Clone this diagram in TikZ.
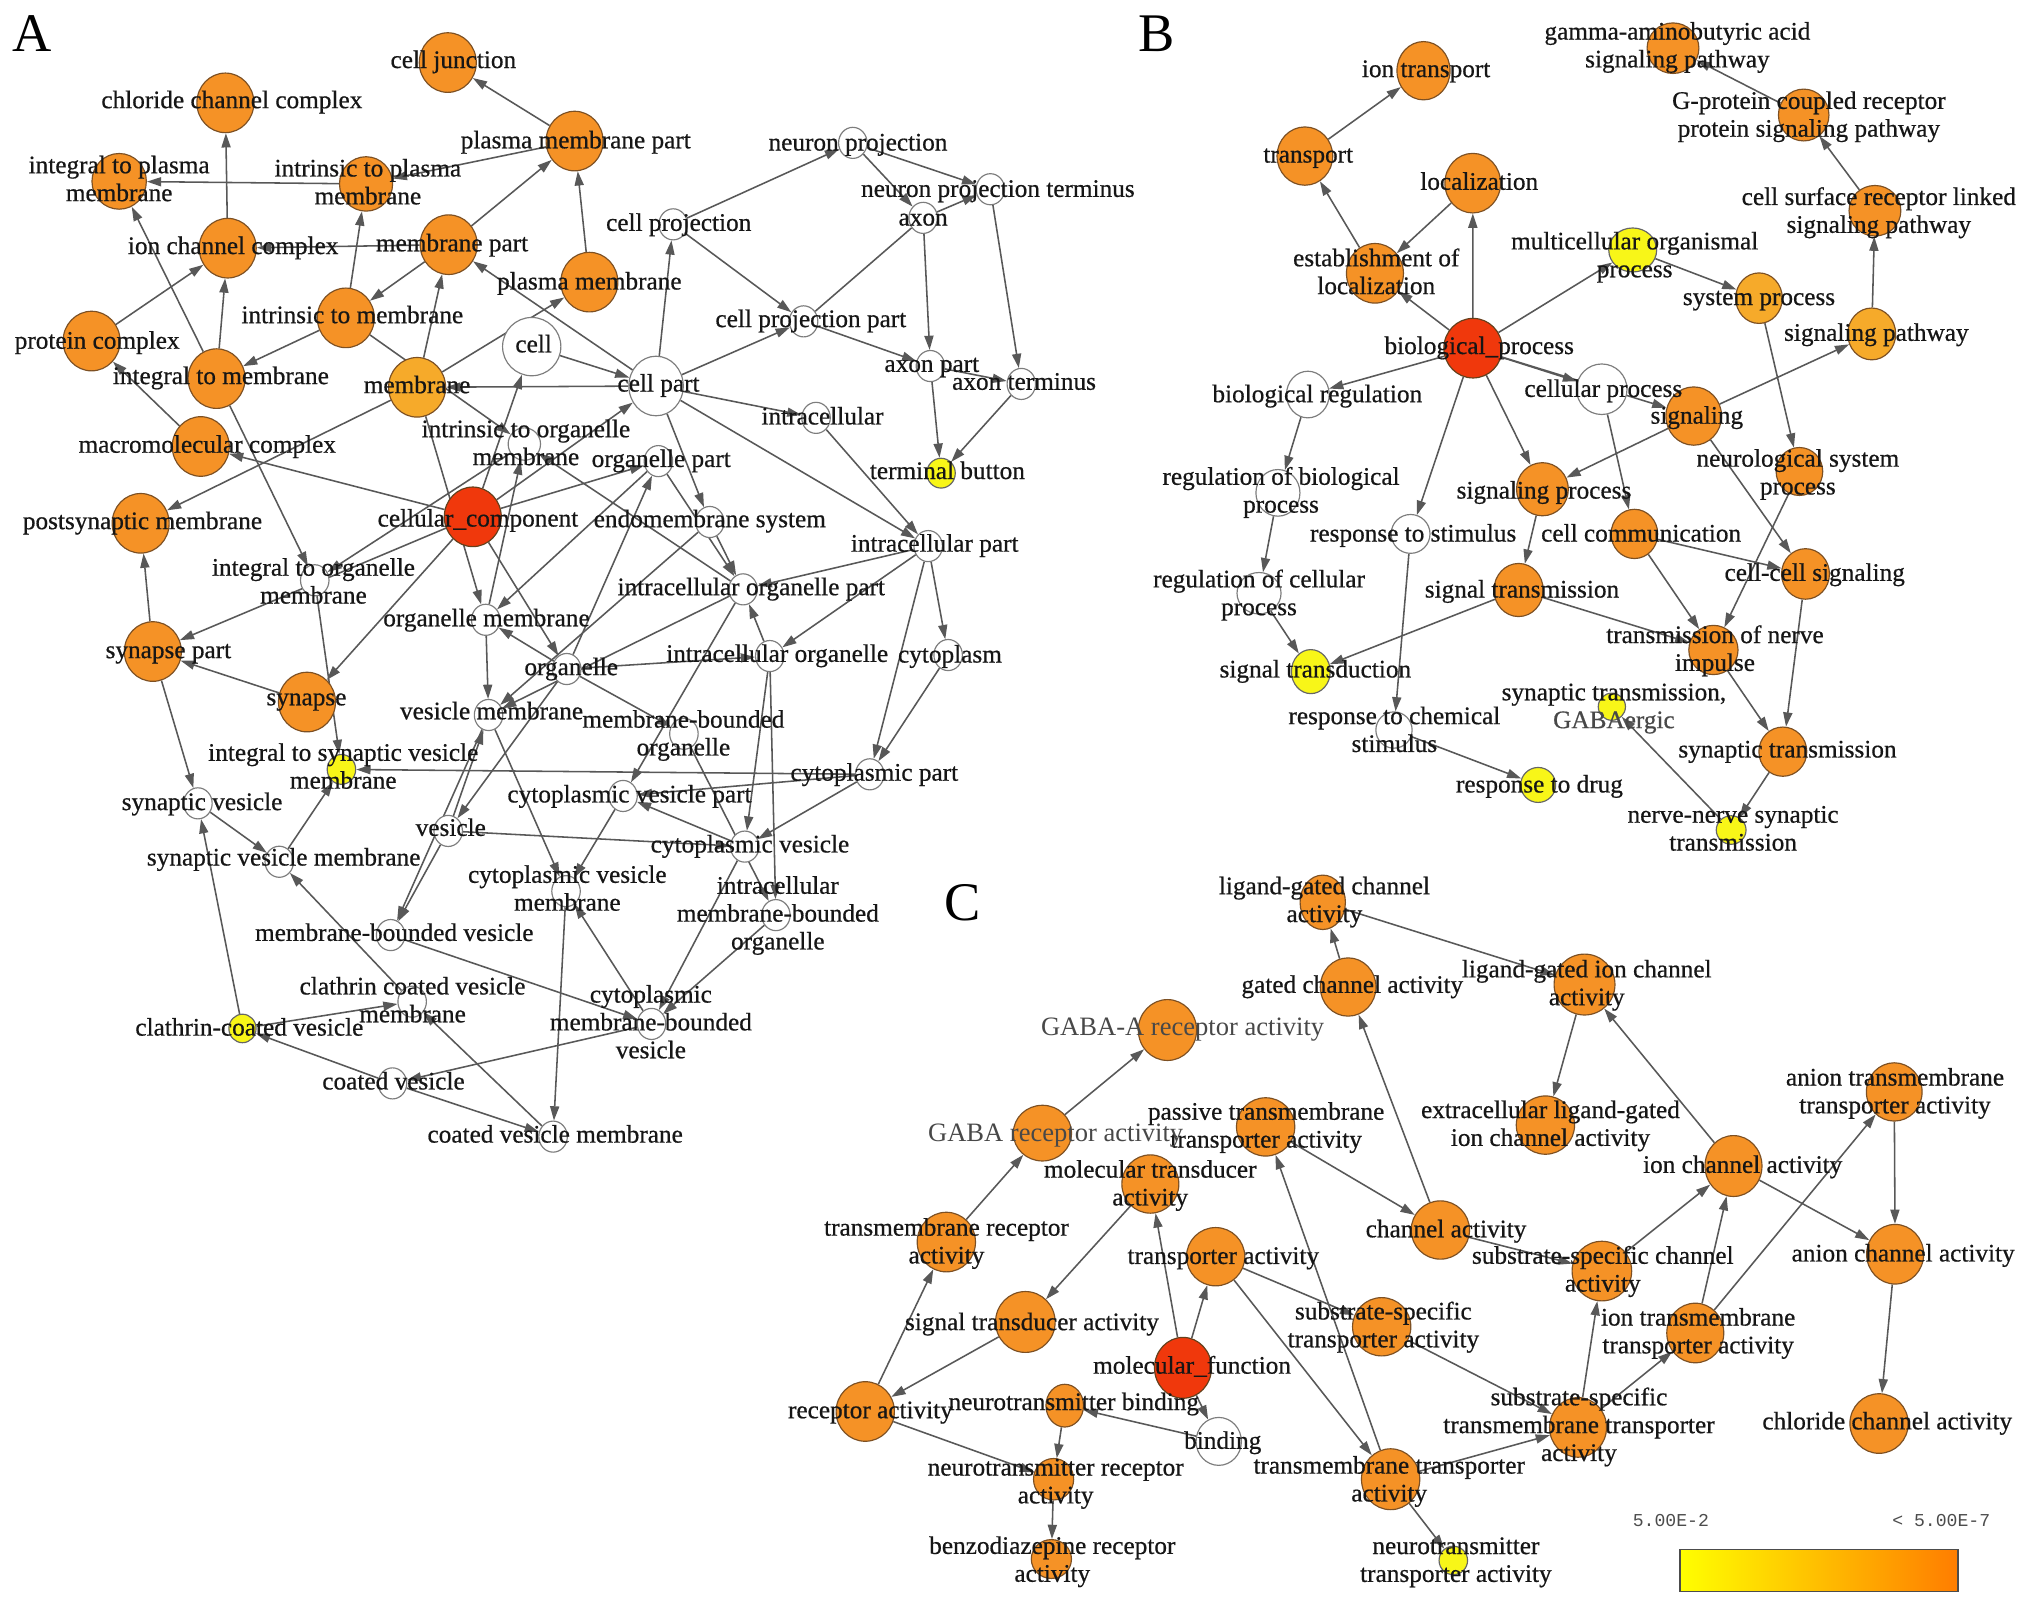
\documentclass[tikz,border=0pt]{standalone}
\usepackage{fontspec}
\setmainfont{Liberation Serif}
\newfontfamily\lblfont{Liberation Serif}[FakeBold=0.6]
\newfontfamily\legendfont{Liberation Mono}
\usetikzlibrary{shapes.geometric,arrows.meta}
\definecolor{ornfill}{RGB}{245,146,38}
\definecolor{lornfill}{RGB}{246,170,42}
\definecolor{redfill}{RGB}{240,56,12}
\definecolor{yelfill}{RGB}{248,246,24}
\definecolor{ndborder}{RGB}{125,80,35}
\definecolor{whtborder}{RGB}{125,125,125}
\definecolor{edgec}{RGB}{88,88,88}
\definecolor{txt}{RGB}{22,22,22}
\definecolor{gabatxt}{RGB}{72,72,72}
\pgfdeclarelayer{bglayer}
\pgfdeclarelayer{edgelayer}
\pgfsetlayers{bglayer,edgelayer,main}
\tikzset{
  nd/.style={ellipse, draw=ndborder, line width=0.9pt, inner sep=0pt, minimum width=44pt, minimum height=46pt},
  orn/.style={nd, fill=ornfill},
  lorn/.style={nd, fill=lornfill},
  redn/.style={nd, fill=redfill, draw=ndborder!80!black},
  yel/.style={nd, fill=yelfill, draw=black!60, minimum width=22pt, minimum height=23pt},
  wht/.style={nd, fill=white, draw=whtborder, minimum width=22pt, minimum height=24pt},
  sz/.style 2 args={minimum width=#1pt, minimum height=#2pt},
  lbl/.style={font=\lblfont\fontsize{19.5}{21.5}\selectfont, text=txt, inner sep=0pt, align=center, text height=13pt, text depth=4pt},
  two/.style={yshift=-10.75pt},
  three/.style={yshift=-21.5pt},
  gablbl/.style={lbl, font=\fontsize{20.5}{21.5}\selectfont, text=gabatxt},
  panel/.style={font=\fontsize{42}{42}\selectfont, text=black, inner sep=0pt},
  edg/.style={draw=edgec, line width=1.2pt, -{Triangle[length=11pt,width=7pt]}},
  edgn/.style={draw=edgec, line width=1.2pt},
}
\begin{document}
\begin{tikzpicture}[x=1pt,y=-1pt]
\begin{pgfonlayer}{bglayer}
\fill[white] (0,0) rectangle (1568,1242);
\end{pgfonlayer}
\useasboundingbox (0,0) rectangle (1568,1242);

% ---------------- Panel A nodes ----------------
\node[orn] (cj) at (345.7,48.3) {};
\node[orn] (ccc) at (174,79.4) {};
\node[orn] (pmp) at (443.6,108.9) {};
\node[orn, sz={42}{43}] (itpm) at (92,140) {};
\node[orn, sz={41}{42}] (intpm) at (282.6,142) {};
\node[orn] (icc) at (175.8,191.6) {};
\node[orn] (mp) at (346.4,188.9) {};
\node[orn] (pm) at (455,217.8) {};
\node[orn] (intm) at (267,245.4) {};
\node[orn] (pc) at (70.7,263.3) {};
\node[orn] (itm) at (167.2,292.3) {};
\node[lorn] (mem) at (322,299) {};
\node[wht, sz={45}{45}] (cell) at (410.5,267.6) {};
\node[wht, sz={42}{46}] (cpart) at (506.5,298) {};
\node[orn] (mcc) at (155,344.7) {};
\node[wht, sz={25}{25}] (intom) at (404.8,342.8) {};
\node[wht] (opart) at (508.3,356) {};
\node[redn] (cc) at (365,399) {};
\node[orn] (psm) at (108.6,404) {};
\node[wht] (endo) at (548,403) {};
\node[wht] (itom) at (243,448) {};
\node[wht] (om) at (375,478.5) {};
\node[wht] (iop) at (573.7,455) {};
\node[wht] (ip) at (716.6,421.6) {};
\node[orn] (sp) at (118,503) {};
\node[orn] (syn) at (237,542) {};
\node[wht] (org) at (437.5,516.5) {};
\node[wht] (io) at (594.3,506.5) {};
\node[wht] (cyto) at (732,505.7) {};
\node[wht] (vm) at (377.2,552) {};
\node[wht] (mbo) at (528,566.5) {};
\node[yel] (itsvm) at (263.6,594) {};
\node[wht] (cvp) at (481,614.5) {};
\node[wht] (cpt) at (671.5,597.8) {};
\node[wht] (sv) at (152.8,620.2) {};
\node[wht] (ves) at (346,641.5) {};
\node[wht] (cv) at (575,653.6) {};
\node[wht] (svm) at (215.6,665.3) {};
\node[wht] (cvm) at (437,688) {};
\node[wht] (imbo) at (599,706.5) {};
\node[wht] (mbv) at (301.6,721.9) {};
\node[wht] (ccvm) at (318.2,773.3) {};
\node[yel, sz={21}{22}] (ccv) at (187.2,794) {};
\node[wht] (cmbv) at (503,790.5) {};
\node[wht] (cov) at (303,836.4) {};
\node[wht] (covm) at (427,877.5) {};
\node[wht] (np) at (658.4,110.3) {};
\node[wht] (npt) at (764.6,146.1) {};
\node[wht] (axon) at (712.7,168.2) {};
\node[wht] (cproj) at (519.7,173.2) {};
\node[wht] (cpp) at (620.4,248.1) {};
\node[wht] (axp) at (718.3,282.6) {};
\node[wht] (axt) at (788.5,296.4) {};
\node[wht] (intra) at (630,322.6) {};
\node[yel] (tb) at (726.5,365.3) {};

% ---------------- Panel B nodes ----------------
\node[orn, sz={41}{45}] (bion) at (1099,54.6) {};
\node[orn, sz={40}{39}] (gaba) at (1291.6,37.2) {};
\node[orn, sz={39}{40}] (gpcr) at (1392.5,88.8) {};
\node[orn, sz={43}{45}] (transp) at (1007.4,120.5) {};
\node[orn, sz={43}{46}] (loc) at (1137,141.4) {};
\node[orn, sz={40}{39}] (csr) at (1447.5,162.7) {};
\node[yel, sz={37}{34}] (mop) at (1260.5,193) {};
\node[orn] (eol) at (1061.5,211) {};
\node[lorn, sz={36}{39}] (sysp) at (1358,230.2) {};
\node[lorn, sz={37}{40}] (sigpath) at (1445,257.8) {};
\node[redn, sz={45}{46}] (bp) at (1137.2,268.8) {};
\node[wht, sz={33}{36}] (breg) at (1009.7,304.6) {};
\node[wht, sz={39}{39}] (cellp) at (1236.6,300.5) {};
\node[orn, sz={43}{45}] (signaling) at (1307.6,321.2) {};
\node[orn, sz={36}{37}] (nsp) at (1389.2,364) {};
\node[wht, sz={34}{36}] (rbp) at (986.6,380.5) {};
\node[orn, sz={40}{41}] (sigproc) at (1190.8,377.7) {};
\node[wht, sz={30}{30}] (rts) at (1089,412.2) {};
\node[orn, sz={36}{38}] (ccomm) at (1261.8,412.2) {};
\node[orn, sz={37}{39}] (ccs) at (1393.9,443.1) {};
\node[orn, sz={38}{41}] (sigtr) at (1172.4,455.5) {};
\node[orn, sz={38}{38}] (tni) at (1322.8,501.8) {};
\node[wht, sz={34}{32}] (rcp) at (972,458) {};
\node[yel, sz={30}{34}] (sigtd) at (1012,518.5) {};
\node[yel, sz={21}{21}] (gabaerg) at (1244.4,545.6) {};
\node[wht, sz={28}{28}] (rcs) at (1076.2,563.6) {};
\node[orn, sz={37}{38}] (syntr) at (1376.4,580.3) {};
\node[yel, sz={27}{27}] (rdrug) at (1187.5,606) {};
\node[yel, sz={23}{22}] (nnst) at (1336.5,640.8) {};

% ---------------- Panel C nodes ----------------
\node[orn, sz={35}{42}] (lgc) at (1021.2,696.6) {};
\node[orn, sz={43}{45}] (gca) at (1040.8,762) {};
\node[orn, sz={47}{47}] (lgic) at (1223.3,760.1) {};
\node[orn, sz={45}{47}] (gabaa) at (901.3,795.2) {};
\node[orn, sz={43}{45}] (anti) at (1462.4,843) {};
\node[orn, sz={45}{45}] (ptta) at (977.1,870) {};
\node[orn, sz={45}{45}] (elgic) at (1193.1,868.6) {};
\node[orn, sz={45}{43}] (gabar) at (804.8,874.8) {};
\node[orn, sz={44}{47}] (ica) at (1338.3,900.2) {};
\node[orn, sz={44}{45}] (mta) at (888.1,914.1) {};
\node[orn, sz={45}{45}] (ca) at (1112,949.6) {};
\node[orn, sz={45}{46}] (tra) at (730.6,958.9) {};
\node[orn, sz={45}{45}] (ta) at (938.5,970.2) {};
\node[orn, sz={44}{46}] (aca) at (1463.1,968.3) {};
\node[orn, sz={46}{46}] (sca) at (1236.7,981.3) {};
\node[orn, sz={46}{47}] (sta) at (791.6,1020.6) {};
\node[orn, sz={45}{45}] (ssta) at (1066.7,1024.3) {};
\node[orn, sz={44}{46}] (itta) at (1308.8,1029.1) {};
\node[redn, sz={44}{47}] (mf) at (913.3,1056) {};
\node[orn, sz={45}{46}] (ra) at (668,1089.7) {};
\node[orn, sz={29}{33}] (ntb) at (822,1085.2) {};
\node[orn, sz={44}{46}] (sstta) at (1218.3,1102) {};
\node[orn, sz={45}{46}] (chca) at (1450.7,1099) {};
\node[wht, sz={35}{37}] (bind) at (940.9,1112.8) {};
\node[orn, sz={45}{47}] (tta) at (1073.6,1142) {};
\node[orn, sz={31}{32}] (nra) at (813.4,1142) {};
\node[orn, sz={31}{30}] (bzd) at (811.7,1203.6) {};
\node[yel, sz={22}{22}] (ntta) at (1122,1204.7) {};

% ---------------- edges ----------------
\begin{pgfonlayer}{edgelayer}
\foreach \a/\b in {pmp/cj, pmp/intpm, intpm/itpm, icc/ccc, itm/itpm, intm/intpm,
  mp/icc, mp/pmp, mp/intm, pm/pmp, pc/icc, itm/icc, intm/itm, mem/mp, cpart/mp,
  intm/intom, mem/pm, cpart/mem, cell/cpart, cc/cell, om/intom, cc/cpart, cc/opart,
  cc/mcc, mcc/pc, mem/psm, sp/psm, itm/itom, intom/itom, cc/syn, cc/sp, syn/sp,
  itom/itsvm, sp/sv, sv/svm, svm/itsvm, cpt/itsvm, mem/om, org/om, opart/om, cc/org,
  om/vm, iop/vm, endo/vm, org/opart, iop/intom, cpart/cproj, cpart/cpp, cproj/cpp,
  cproj/np, np/npt, np/axon, axon/npt, cpp/axp, axon/axp, axp/axt, npt/axt, axp/tb,
  axt/tb, cpart/intra, intra/ip, cpart/ip, cpart/endo, opart/iop, endo/iop, ip/iop,
  io/iop, ip/io, ip/cyto, ip/cpt, cyto/cpt, org/io, io/cv, io/imbo, org/mbo, mbo/imbo,
  iop/cvp, cpt/cvp, cv/cvp, cpt/cv, vm/cvm, cvp/cvm, org/ves, ves/vm, ves/mbv, vm/mbv,
  ves/cv, cv/cmbv, imbo/cmbv, mbv/cmbv, cmbv/cov, cmbv/cvm, ccvm/svm, ccv/sv, ccv/ccvm,
  cov/ccv, cov/covm, covm/ccvm, cvm/covm,
  transp/bion, eol/transp, loc/eol, bp/loc, bp/eol, bp/mop, mop/sysp, sysp/nsp,
  gpcr/gaba, csr/gpcr, sigpath/csr, signaling/sigpath, bp/breg, bp/cellp, bp/signaling,
  bp/sigproc, bp/rts, breg/rbp, signaling/sigproc, signaling/ccs, cellp/ccomm, nsp/tni,
  sigproc/sigtr, ccomm/tni, ccomm/ccs, sigtr/sigtd, sigtr/tni, rbp/rcp, rcp/sigtd,
  rts/rcs, rcs/rdrug, tni/syntr, ccs/syntr, syntr/nnst, nnst/gabaerg,
  gabar/gabaa, tra/gabar, ra/tra, sta/ra, mta/sta, mf/mta, mf/ta, mf/bind, bind/ntb,
  ntb/nra, ra/nra, nra/bzd, ta/ssta, ta/tta, tta/ptta, ptta/ca, ca/gca, gca/lgc,
  lgc/lgic, ica/lgic, lgic/elgic, ca/sca, sca/ica, itta/ica, sstta/sca, sstta/itta,
  itta/anti, anti/aca, ica/aca, aca/chca, ssta/sstta, tta/sstta, tta/ntta}
  \draw[edg] (\a) -- (\b);
\draw[edgn] (axon) -- (cpp);
\end{pgfonlayer}

% ---------------- Panel labels ----------------
\node[panel] (pA) at (25,26) {A};
\node[panel] (pB) at (893,26) {B};
\node[panel] (pC) at (743,697) {C};

% ---------------- Panel A labels ----------------
\node[lbl] (l1) at (350,48) {cell junction};
\node[lbl] (l2) at (179,79) {chloride channel complex};
\node[lbl] (l3) at (444.5,110) {plasma membrane part};
\node[lbl, two] (l4) at (92,140) {integral to plasma\\membrane};
\node[lbl, two] (l5) at (284,142.5) {intrinsic to plasma\\membrane};
\node[lbl] (l6) at (180,191.6) {ion channel complex};
\node[lbl] (l7) at (349,189.5) {membrane part};
\node[lbl] (l8) at (455,219) {plasma membrane};
\node[lbl] (l9) at (272,245) {intrinsic to membrane};
\node[lbl] (l10) at (75,264.7) {protein complex};
\node[lbl] (l11) at (170.5,292) {integral to membrane};
\node[lbl] (l12) at (322,299) {membrane};
\node[lbl] (l13) at (412,267.5) {cell};
\node[lbl] (l14) at (508.4,297.8) {cell part};
\node[lbl] (l15) at (160,345) {macromolecular complex};
\node[lbl, two] (l16) at (406,343.8) {intrinsic to organelle\\membrane};
\node[lbl] (l17) at (510.5,356) {organelle part};
\node[lbl] (l18) at (369,402) {cellular\_component};
\node[lbl] (l19) at (110,404) {postsynaptic membrane};
\node[lbl] (l20) at (548,402.5) {endomembrane system};
\node[lbl, two] (l21) at (242,450.7) {integral to organelle\\membrane};
\node[lbl] (l22) at (375.6,479) {organelle membrane};
\node[lbl] (l23) at (580,455) {intracellular organelle part};
\node[lbl] (l24) at (721.6,421.4) {intracellular part};
\node[lbl] (l25) at (130,503.6) {synapse part};
\node[lbl] (l26) at (236.6,540) {synapse};
\node[lbl] (l27) at (441,516.7) {organelle};
\node[lbl] (l28) at (600,506.5) {intracellular organelle};
\node[lbl] (l29) at (733.4,507) {cytoplasm};
\node[lbl] (l30) at (379.5,550.8) {vesicle membrane};
\node[lbl, two] (l31) at (527.6,568) {membrane-bounded\\organelle};
\node[lbl, two] (l32) at (265,593.6) {integral to synaptic vesicle\\membrane};
\node[lbl] (l33) at (486,615) {cytoplasmic vesicle part};
\node[lbl] (l34) at (675,598.2) {cytoplasmic part};
\node[lbl] (l35) at (156,620.9) {synaptic vesicle};
\node[lbl] (l36) at (348,640.8) {vesicle};
\node[lbl] (l37) at (579,653.6) {cytoplasmic vesicle};
\node[lbl] (l38) at (219,663.7) {synaptic vesicle membrane};
\node[lbl, two] (l39) at (438,687.8) {cytoplasmic vesicle\\membrane};
\node[lbl, three] (l40) at (600.5,707) {intracellular\\membrane-bounded\\organelle};
\node[lbl] (l41) at (304.4,721.9) {membrane-bounded vesicle};
\node[lbl, two] (l42) at (318.5,774) {clathrin coated vesicle\\membrane};
\node[lbl] (l43) at (192.5,795) {clathrin-coated vesicle};
\node[lbl, three] (l44) at (502.5,791) {cytoplasmic\\membrane-bounded\\vesicle};
\node[lbl] (l45) at (303.8,836.6) {coated vesicle};
\node[lbl] (l46) at (428.6,877.6) {coated vesicle membrane};
\node[lbl] (l47) at (662.4,111.7) {neuron projection};
\node[lbl] (l48) at (770.4,147.5) {neuron projection terminus};
\node[lbl] (l49) at (712.7,169.6) {axon};
\node[lbl] (l50) at (524,173.7) {cell projection};
\node[lbl] (l51) at (626,248) {cell projection part};
\node[lbl] (l52) at (719.4,282.6) {axon part};
\node[lbl] (l53) at (790.6,296.4) {axon terminus};
\node[lbl] (l54) at (635,323.2) {intracellular};
\node[lbl] (l55) at (731.4,365.3) {terminal button};

% ---------------- Panel B labels ----------------
\node[lbl] (m1) at (1101,55) {ion transport};
\node[lbl, two] (m2) at (1295,36.8) {gamma-aminobutyric acid\\signaling pathway};
\node[lbl, two] (m3) at (1396.5,90.3) {G-protein coupled receptor\\protein signaling pathway};
\node[lbl] (m4) at (1010,121) {transport};
\node[lbl] (m5) at (1142,142) {localization};
\node[lbl, two] (m6) at (1450.5,164.5) {cell surface receptor linked\\signaling pathway};
\node[lbl, two] (m7) at (1262,198.8) {multicellular organismal\\process};
\node[lbl, two] (m8) at (1062.5,211.8) {establishment of\\localization};
\node[lbl] (m9) at (1358,231) {system process};
\node[lbl] (m10) at (1448.6,258.6) {signaling pathway};
\node[lbl] (m11) at (1142,268.8) {biological\_process};
\node[lbl] (m12) at (1017,306) {biological regulation};
\node[lbl] (m13) at (1237.8,301.9) {cellular process};
\node[lbl] (m14) at (1310,322.6) {signaling};
\node[lbl, two] (m15) at (1388,366.5) {neurological system\\process};
\node[lbl, two] (m16) at (989,380.5) {regulation of biological\\process};
\node[lbl] (m17) at (1192,380.4) {signaling process};
\node[lbl] (m18) at (1091,413.6) {response to stimulus};
\node[lbl] (m19) at (1267,413.6) {cell communication};
\node[lbl] (m20) at (1401,443.9) {cell-cell signaling};
\node[lbl] (m21) at (1175,456.8) {signal transmission};
\node[lbl, two] (m22) at (1324,502.7) {transmission of nerve\\impulse};
\node[lbl, two] (m23) at (972,459.7) {regulation of cellular\\process};
\node[lbl] (m24) at (1015.5,518.5) {signal transduction};
\node[lbl, two] (m25) at (1246,546.9) {synaptic transmission,\\\textcolor{gabatxt}{GABAergic}};
\node[lbl, two] (m26) at (1076.5,565.3) {response to chemical\\stimulus};
\node[lbl] (m27) at (1380,580.3) {synaptic transmission};
\node[lbl] (m28) at (1188.5,607.3) {response to drug};
\node[lbl, two] (m29) at (1338,641.4) {nerve-nerve synaptic\\transmission};

% ---------------- Panel C labels ----------------
\node[lbl, two] (n1) at (1022.5,696.6) {ligand-gated channel\\activity};
\node[lbl] (n2) at (1044,762) {gated channel activity};
\node[lbl, two] (n3) at (1225,760.8) {ligand-gated ion channel\\activity};
\node[gablbl] (n4) at (913,795.2) {GABA-A receptor activity};
\node[lbl, two] (n5) at (1463,844.3) {anion transmembrane\\transporter activity};
\node[lbl, two] (n6) at (977.5,870.7) {passive transmembrane\\transporter activity};
\node[lbl, two] (n7) at (1197,869.4) {extracellular ligand-gated\\ion channel activity};
\node[gablbl] (n8) at (815,876.7) {GABA receptor activity};
\node[lbl] (n9) at (1345.4,901) {ion channel activity};
\node[lbl, two] (n10) at (888,915.4) {molecular transducer\\activity};
\node[lbl] (n11) at (1116.4,950.7) {channel activity};
\node[lbl, two] (n12) at (730.7,960.2) {transmembrane receptor\\activity};
\node[lbl] (n13) at (944.4,971.3) {transporter activity};
\node[lbl] (n14) at (1469.3,969.4) {anion channel activity};
\node[lbl, two] (n15) at (1237.4,981.9) {substrate-specific channel\\activity};
\node[lbl] (n16) at (796.7,1022.4) {signal transducer activity};
\node[lbl, two] (n17) at (1068,1024.9) {substrate-specific\\transporter activity};
\node[lbl, two] (n18) at (1311,1029.6) {ion transmembrane\\transporter activity};
\node[lbl] (n19) at (920.3,1056) {molecular\_function};
\node[lbl] (n20) at (672,1090.4) {receptor activity};
\node[lbl] (n21) at (829,1084.1) {neurotransmitter binding};
\node[lbl, three] (n22) at (1219,1101.9) {substrate-specific\\transmembrane transporter\\activity};
\node[lbl] (n23) at (1457,1099) {chloride channel activity};
\node[lbl] (n24) at (944,1114) {binding};
\node[lbl, two] (n25) at (1072.5,1143.9) {transmembrane transporter\\activity};
\node[lbl, two] (n26) at (815,1145.4) {neurotransmitter receptor\\activity};
\node[lbl, two] (n27) at (812.4,1205.9) {benzodiazepine receptor\\activity};
\node[lbl, two] (n28) at (1124,1206) {neurotransmitter\\transporter activity};

% ---------------- Legend ----------------
\node[font=\legendfont\fontsize{14}{14}\selectfont, text=black!70, inner sep=0pt] (lg1) at (1290,1173.8) {5.00E-2};
\node[font=\legendfont\fontsize{14}{14}\selectfont, text=black!70, inner sep=0pt] (lg2) at (1498.7,1173.8) {< 5.00E-7};
\shade[left color={rgb,255:red,255;green,255;blue,0}, right color={rgb,255:red,255;green,125;blue,0}] (1297,1196.2) rectangle (1511.6,1228.7);
\draw[black!70, line width=1pt] (1297,1196.2) rectangle (1511.6,1228.7);
\end{tikzpicture}
\end{document}
